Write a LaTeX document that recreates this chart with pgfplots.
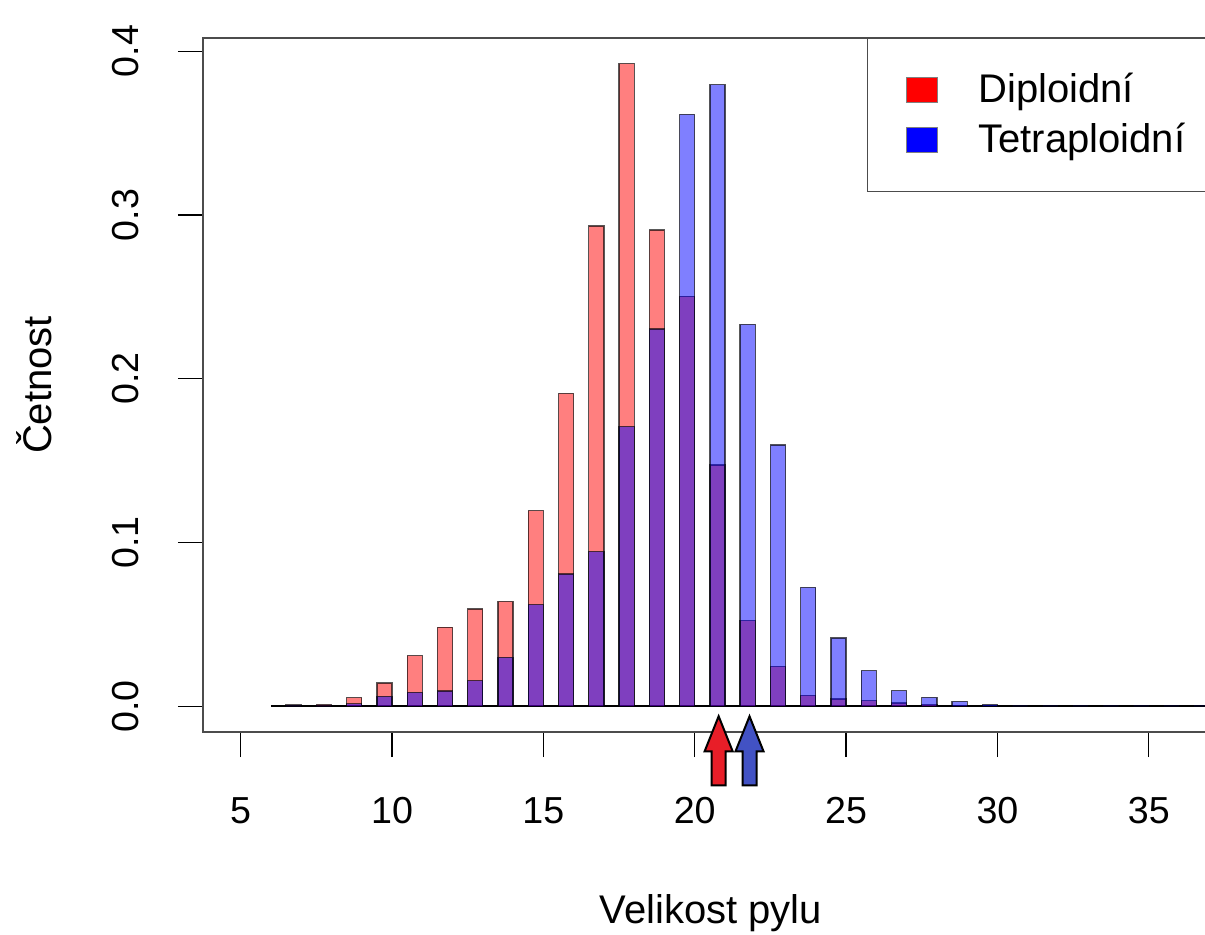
\documentclass[border=0pt]{standalone}
\usepackage{fontspec}
\setmainfont{Liberation Sans}
\usepackage{pgfplots}
\usepackage{pgfplotstable}
\pgfplotsset{compat=1.18}

\definecolor{dipl}{rgb}{1,0,0}
\definecolor{tetra}{rgb}{0,0,1}
\definecolor{arrred}{RGB}{232,30,40}
\definecolor{arrblue}{RGB}{66,82,196}
\definecolor{frame}{gray}{0.3}

% relative frequency per size class (bars sit at class - 0.25)
\pgfplotstableread{
x      d       t
6.75   0.0008  0.0005
7.75   0.0010  0.0005
8.75   0.0053  0.0015
9.75   0.0142  0.0061
10.75  0.0309  0.0085
11.75  0.0483  0.0093
12.75  0.0594  0.0156
13.75  0.0640  0.0299
14.75  0.1195  0.0620
15.75  0.1910  0.0807
16.75  0.2933  0.0945
17.75  0.3923  0.1707
18.75  0.2907  0.2303
19.75  0.2502  0.3614
20.75  0.1474  0.3795
21.75  0.0523  0.2332
22.75  0.0244  0.1596
23.75  0.0067  0.0726
24.75  0.0045  0.0417
25.75  0.0035  0.0218
26.75  0.0020  0.0096
27.75  0.0010  0.0055
28.75  0.0005  0.0030
29.75  0.0000  0.0010
30.75  0.0000  0.0005
31.75  0.0000  0.0005
32.75  0.0000  0.0005
33.75  0.0000  0.0005
34.75  0.0000  0.0005
35.75  0.0000  0.0005
36.75  0.0000  0.0005
}\pyl

\begin{document}
\begin{tikzpicture}
\useasboundingbox (0,0) rectangle (602.5pt,467pt);
\begin{axis}[
    at={(101.5pt,101pt)}, anchor=south west,
    scale only axis, width=508pt, height=347pt,
    xmin=3.755, xmax=37.32,
    ymin=-0.0157, ymax=0.408,
    axis line style={frame, line width=0.6pt},
    tick pos=left, tick align=outside,
    major tick length=12.5pt,
    tick style={black, line width=0.6pt},
    xtick={5,10,...,35},
    ytick={0,0.1,0.2,0.3,0.4},
    scaled y ticks=false,
    /pgf/number format/assume math mode=true,
    tick label style={font=\fontsize{18.8}{22}\selectfont, inner sep=0pt},
    xticklabel style={anchor=base, yshift=-33.2pt},
    yticklabel style={xshift=-19.8pt, rotate=90, anchor=base,
        /pgf/number format/.cd, fixed, fixed zerofill, precision=1},
    xlabel={Velikost pylu},
    ylabel={Četnost},
    every axis x label/.style={at={(axis description cs:0.5,-0.2756)}, anchor=base,
        font=\fontsize{20}{24}\selectfont},
    every axis y label/.style={at={(axis description cs:-0.1489,0.5)}, rotate=90, anchor=base,
        font=\fontsize{20}{24}\selectfont},
    legend image code/.code={\draw[#1] (0pt,0pt) rectangle (15.5pt,12.5pt);},
    legend cell align=left,
    legend style={at={(rel axis cs:0.6535,1)}, anchor=north west,
        draw=frame, line width=0.6pt,
        inner xsep=19pt, inner ysep=17.35pt,
        row sep=8.2pt, column sep=20.5pt,
        font=\fontsize{20}{24}\selectfont,
        nodes={inner sep=0pt, text height=14.5pt, text depth=2.3pt, anchor=base west}},
]
\addplot[black, line width=0.8pt, forget plot] coordinates {(6,0) (37.32,0)};
\addplot[ybar, bar width=0.5, bar shift=0pt, fill=dipl, fill opacity=0.5,
    draw=black, draw opacity=0.65, line width=0.65pt, forget plot]
    table[x=x, y=d] {\pyl};
\addplot[ybar, bar width=0.5, bar shift=0pt, fill=tetra, fill opacity=0.5,
    draw=black, draw opacity=0.65, line width=0.65pt, forget plot]
    table[x=x, y=t] {\pyl};
\addlegendimage{fill=dipl, draw=black!50, line width=0.4pt}
\addlegendentry{Diploidní}
\addlegendimage{fill=tetra, draw=black!50, line width=0.4pt}
\addlegendentry{Tetraploidní}
% means of the two distributions
\coordinate (md) at (axis cs:20.79,-0.0061);
\coordinate (mt) at (axis cs:21.81,-0.0061);
\end{axis}
\foreach \c/\col in {md/arrred, mt/arrblue}
  \draw[line width=1pt, fill=\col, line join=miter]
    (\c) -- ++(-7pt,-17.5pt) -- ++(3.5pt,0) -- ++(0,-17pt) -- ++(7pt,0)
    -- ++(0,17pt) -- ++(3.5pt,0) -- cycle;
\end{tikzpicture}
\end{document}
